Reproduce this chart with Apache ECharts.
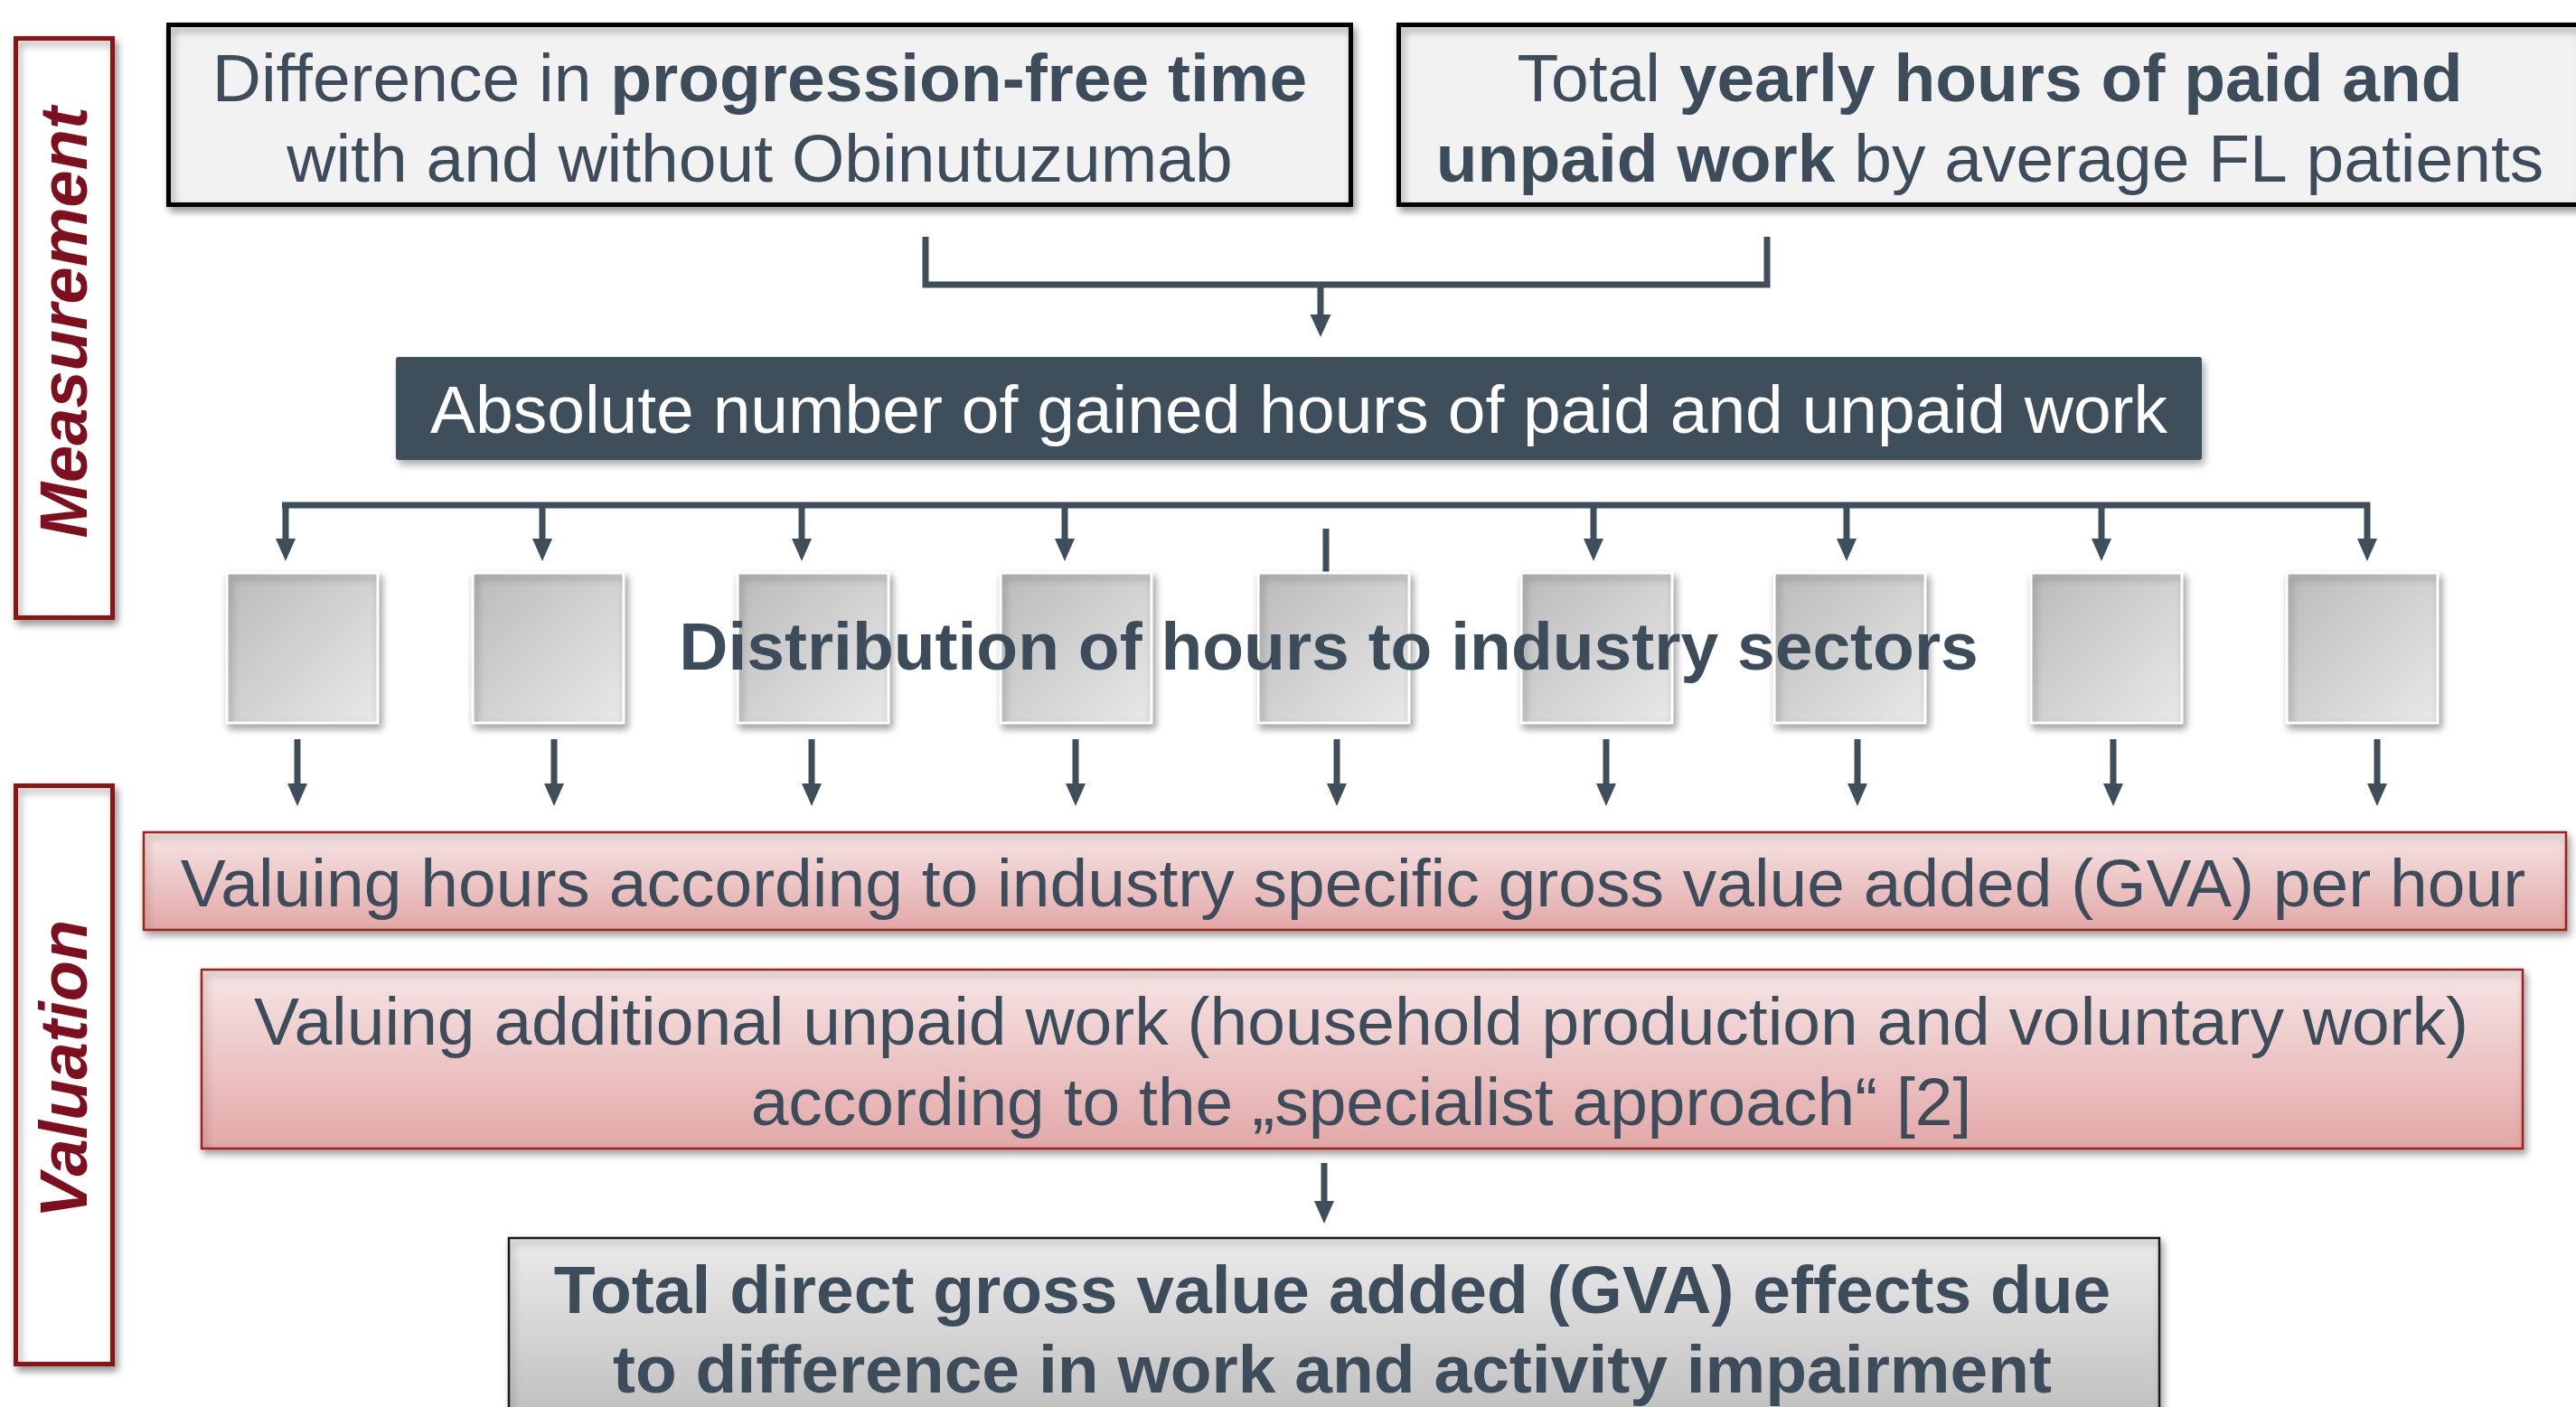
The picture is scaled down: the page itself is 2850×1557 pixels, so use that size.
<!DOCTYPE html>
<html><head><meta charset="utf-8">
<script src="https://cdn.jsdelivr.net/npm/echarts@6/dist/echarts.min.js"></script>
<style>html,body{margin:0;padding:0;background:#fff}#c{width:2850px;height:1557px}</style>
</head><body><div id="c"></div>
<script>
// ---- content ----
const phaseLabels = ['Measurement', 'Valuation'];
// each input box: lines of [text, isBold] segments
const inputBoxLines = [
  [[['Difference in ', 0], ['progression-free time', 1]], [['with and without Obinutuzumab', 0]]],
  [[['Total ', 0], ['yearly hours of paid and', 1]], [['unpaid work', 1], [' by average FL patients', 0]]]
];
const gainedLabel = 'Absolute number of gained hours of paid and unpaid work';
const distributionLabel = 'Distribution of hours to industry sectors';
const sectorCount = 9;
const valuingLines1 = ['Valuing hours according to industry specific gross value added (GVA) per hour'];
const valuingLines2 = ['Valuing additional unpaid work (household production and voluntary work)',
                       'according to the \u201Especialist approach\u201C [2]'];
const totalLines = ['Total direct gross value added (GVA) effects due',
                    'to difference in work and activity impairment'];

// ---- layout / style ----
const FONT = '"Liberation Sans", Arial, Helvetica, sans-serif';
const TXT = '#3d4c5a';
const DARK = '#3f4e5b';
const MAROON = '#7d0f1f';
const FS = 75;
const sectorX = [251, 523, 816, 1107, 1392, 1683, 1963, 2247, 2530];
const sectorW = 167, sectorTop = 634, sectorH = 166;
const arrowInX = [316, 600, 887, 1178, null, 1763, 2043, 2325, 2619];
const arrowOutX = [329, 613, 898, 1190, 1479, 1777, 2055, 2338, 2630];

const els = [];
const shadow = {shadowBlur: 8, shadowOffsetX: 3, shadowOffsetY: 5, shadowColor: 'rgba(0,0,0,0.35)'};

function rect(x, y, w, h, style, r) {
  els.push({type: 'rect', shape: {x, y, width: w, height: h, r: r || 0}, style});
}
function text(x, baseline, segs, size, color, extra) {
  const rich = {r: {fontWeight: 'normal', fontSize: size, fontFamily: FONT, fill: color},
                b: {fontWeight: 'bold', fontSize: size, fontFamily: FONT, fill: color}};
  const str = segs.map(s => '{' + (s[1] ? 'b' : 'r') + '|' + s[0] + '}').join('');
  els.push(Object.assign({type: 'text', x, y: baseline - Math.round(size * 0.27),
    style: {text: str, rich, align: 'center', verticalAlign: 'middle', fontSize: size, fontFamily: FONT, fill: color}}, extra || {}));
}
function arrow(x, y0, tip, headLen, headW) {
  els.push({type: 'line', shape: {x1: x, y1: y0, x2: x, y2: tip - headLen + 2}, style: {stroke: DARK, lineWidth: 7}});
  els.push({type: 'polygon', shape: {points: [[x - headW / 2, tip - headLen], [x + headW / 2, tip - headLen], [x, tip]]}, style: {fill: DARK}});
}

// phase boxes
rect(17.5, 42.5, 107, 641, Object.assign({fill: '#fff', stroke: '#8b1414', lineWidth: 5}, shadow));
rect(17.5, 869.5, 107, 640, Object.assign({fill: '#fff', stroke: '#8b1414', lineWidth: 5}, shadow));
els.push({type: 'text', x: 76, y: 357, rotation: Math.PI / 2,
  style: {text: phaseLabels[0], fontSize: 74, fontWeight: 'bold', fontStyle: 'italic', fontFamily: FONT, fill: MAROON, align: 'center', verticalAlign: 'middle'}});
els.push({type: 'text', x: 76, y: 1183, rotation: Math.PI / 2,
  style: {text: phaseLabels[1], fontSize: 74, fontWeight: 'bold', fontStyle: 'italic', fontFamily: FONT, fill: MAROON, align: 'center', verticalAlign: 'middle'}});

// input boxes
const inBoxX = [186.5, 1547.5];
inBoxX.forEach((bx, i) => {
  rect(bx, 27.5, 1308, 199, Object.assign({fill: '#f2f2f2', stroke: '#000', lineWidth: 5}, shadow));
  const cx = bx + 654;
  text(cx, 111, inputBoxLines[i][0], FS, TXT);
  text(cx, 200, inputBoxLines[i][1], FS, TXT);
});

// bracket
els.push({type: 'polyline', shape: {points: [[1024, 262], [1024, 315], [1955, 315], [1955, 262]]}, style: {stroke: DARK, lineWidth: 7, fill: null}});
arrow(1461, 315, 373, 25, 23);

// gained hours box
rect(438, 395, 1998, 114, Object.assign({fill: DARK}, shadow), 3);
text(1437, 478, [[gainedLabel, 0]], FS, '#fff');

// distribution line
els.push({type: 'line', shape: {x1: 312, y1: 559, x2: 2622, y2: 559}, style: {stroke: DARK, lineWidth: 7}});
arrowInX.forEach(x => { if (x !== null) arrow(x, 556, 621, 25, 22); });
els.push({type: 'line', shape: {x1: 1467, y1: 585, x2: 1467, y2: 634}, style: {stroke: DARK, lineWidth: 7}});

// sector boxes
for (let i = 0; i < sectorCount; i++) {
  rect(sectorX[i], sectorTop, sectorW, sectorH, Object.assign({
    fill: new echarts.graphic.LinearGradient(0, 0, 1, 1, [{offset: 0, color: '#bababa'}, {offset: 1, color: '#e9e9e9'}]),
    stroke: '#fff', lineWidth: 3}, shadow));
}
text(1470, 740, [[distributionLabel, 1]], FS, TXT);
arrowOutX.forEach(x => arrow(x, 818, 892, 25, 22));

// valuing boxes
const redGrad = () => new echarts.graphic.LinearGradient(0, 0, 0, 1, [{offset: 0, color: '#f6e5e5'}, {offset: 1, color: '#e3a7a7'}]);
rect(159, 921, 2680, 108, Object.assign({fill: redGrad(), stroke: '#a3201f', lineWidth: 2.5}, shadow));
text(1497, 1002, [[valuingLines1[0], 0]], FS, TXT);
rect(223, 1073, 2568, 198, Object.assign({fill: redGrad(), stroke: '#a3201f', lineWidth: 2.5}, shadow));
text(1506, 1155, [[valuingLines2[0], 0]], FS, TXT);
text(1506, 1244, [[valuingLines2[1], 0]], FS, TXT);

arrow(1465, 1287, 1354, 25, 22);

// total box
rect(563, 1370, 1826, 200, Object.assign({
  fill: new echarts.graphic.LinearGradient(0, 0, 0, 1, [{offset: 0, color: '#ebebeb'}, {offset: 1, color: '#bfbfbf'}]),
  stroke: '#1a1a1a', lineWidth: 2.5}, shadow));
text(1474, 1452, [[totalLines[0], 1]], FS, TXT);
text(1474, 1540, [[totalLines[1], 1]], FS, TXT);

const chart = echarts.init(document.getElementById('c'), null, {renderer: 'canvas'});
chart.setOption({backgroundColor: '#fff', animation: false, graphic: {elements: els}});
</script></body></html>
